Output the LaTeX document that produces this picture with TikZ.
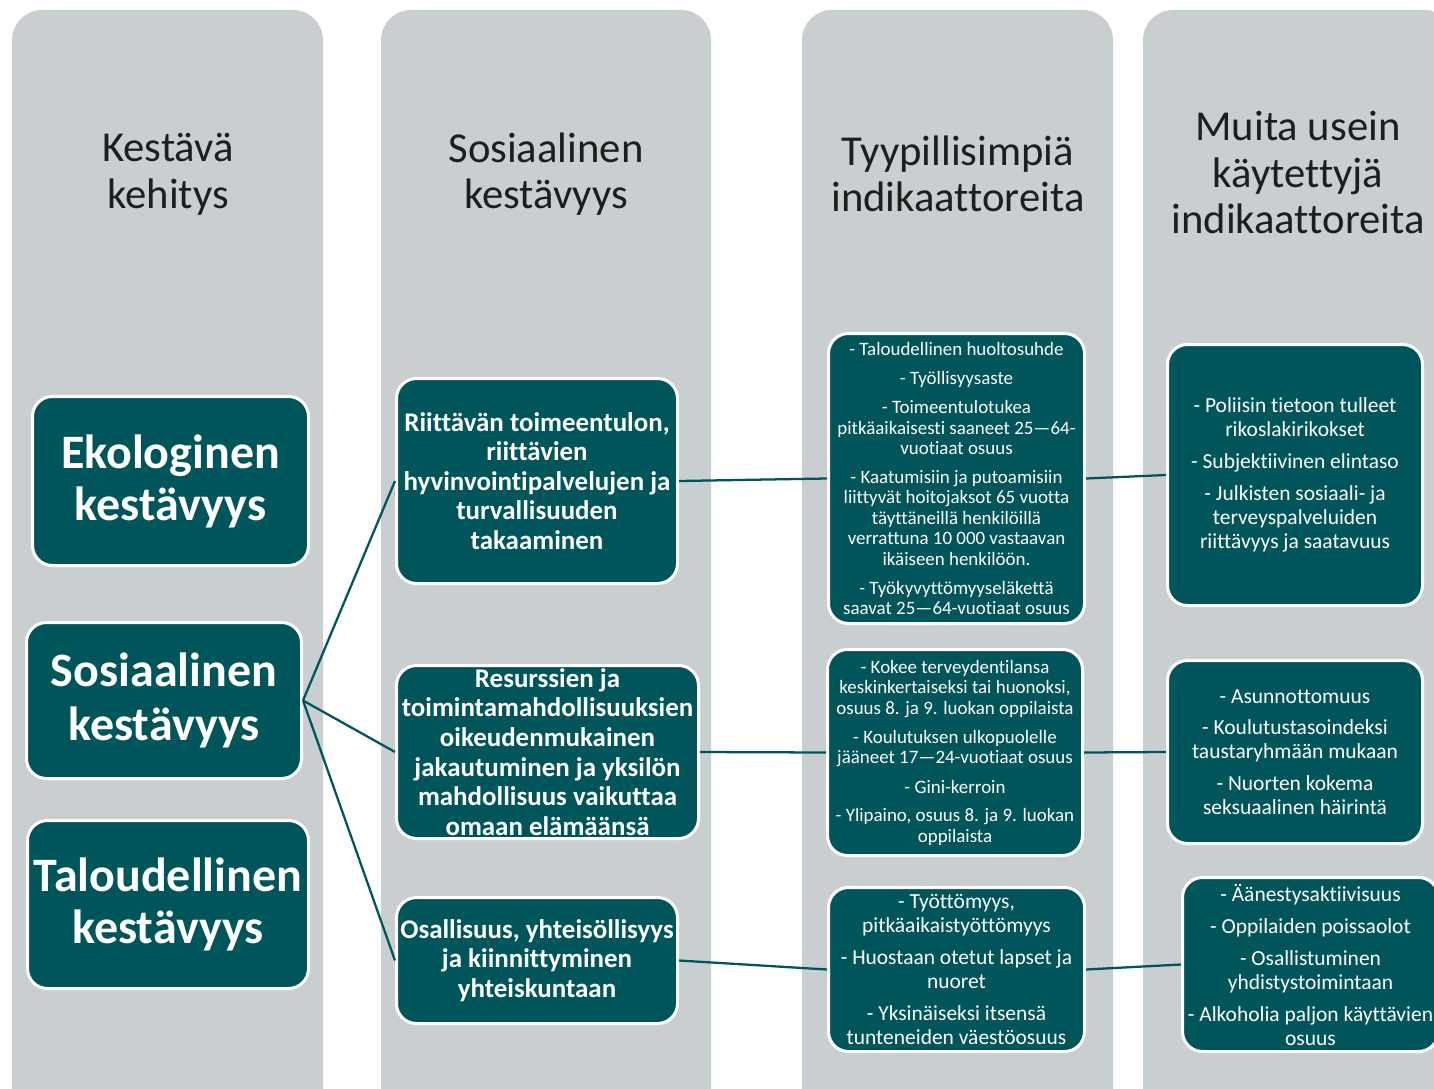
\documentclass[tikz,border=0pt]{standalone}
\usepackage{fontspec}
\setmainfont{Carlito}[Ligatures=NoCommon]
\definecolor{colgray}{RGB}{201,206,209}
\definecolor{tealbox}{RGB}{0,85,90}
\definecolor{hdrtext}{RGB}{30,30,30}
\begin{document}
\begin{tikzpicture}[x=0.75pt,y=-0.75pt,
  tbox/.style={draw=white, line width=2.25pt, fill=tealbox, rounded corners=15pt,
    text=white, align=center, inner sep=0pt},
  dims/.style 2 args={minimum width=#1*0.75pt-2.25pt, minimum height=#2*0.75pt-2.25pt},
  hdr/.style={text=hdrtext, align=center, font=\fontsize{32pt}{35pt}\selectfont},
  bigtxt/.style={font=\bfseries\fontsize{36pt}{39pt}\selectfont},
  midtxt/.style={font=\bfseries\fontsize{20.2pt}{22.2pt}\selectfont},
  smalltxt/.style={font=\fontsize{14.2pt}{15.4pt}\selectfont},
  medtxt/.style={font=\fontsize{16.1pt}{18pt}\selectfont},
  conn/.style={draw=tealbox, line width=1.7pt}]
\useasboundingbox (0,0) rectangle (1434,1088);
\clip (0,0) rectangle (1434,1088);
\fill[white] (0,0) rectangle (1434,1088);
% gray columns
\fill[colgray, rounded corners=22.5pt] (12,10) rectangle (323,1130);
\fill[colgray, rounded corners=22.5pt] (381,10) rectangle (711,1130);
\fill[colgray, rounded corners=22.5pt] (802,10) rectangle (1113,1130);
\fill[colgray, rounded corners=22.5pt] (1143,10) rectangle (1454,1130);
% headers
\node[hdr] (hA) at (168,174) {Kestävä\\kehitys};
\node[hdr] (hB) at (546,174) {Sosiaalinen\\kestävyys};
\node[hdr] (hC) at (958,174) {Tyypillisimpiä\\indikaattoreita};
\node[hdr] (hD) at (1298,172.5) {Muita usein\\käytettyjä\\indikaattoreita};
% left column
\node[tbox, dims={279}{172}, bigtxt] (eko) at (170.5,481) {Ekologinen\\kestävyys};
\node[tbox, dims={278}{159}, bigtxt] (sos) at (164,700.5) {Sosiaalinen\\[1.5pt]kestävyys};
\node[tbox, dims={284}{171}, bigtxt] (tal) at (168,904.5) {Taloudellinen\\kestävyys};
% second column
\node[tbox, dims={284}{208}, midtxt] (b1) at (537,481) {Riittävän toimeentulon,\\riittävien\\hyvinvointipalvelujen ja\\turvallisuuden\\takaaminen};
\node[tbox, dims={305}{176}, midtxt] (b2) at (547.5,752) {Resurssien ja\\toimintamahdollisuuksien\\oikeudenmukainen\\jakautuminen ja yksilön\\mahdollisuus vaikuttaa\\omaan elämäänsä};
\node[tbox, dims={284}{129}, midtxt] (b3) at (537,960.5) {Osallisuus, yhteisöllisyys\\ja kiinnittyminen\\yhteiskuntaan};
% third column
\node[tbox, dims={259}{293}, smalltxt] (c1) at (956.5,478.5) {- Taloudellinen huoltosuhde\\[6.5pt]
- Työllisyysaste\\[6.5pt]
- Toimeentulotukea\\pitkäaikaisesti saaneet 25—64-\\vuotiaat osuus\\[6pt]
- Kaatumisiin ja putoamisiin\\liittyvät hoitojaksot 65 vuotta\\täyttäneillä henkilöillä\\verrattuna 10 000 vastaavan\\ikäiseen henkilöön.\\[6.5pt]
- Työkyvyttömyyseläkettä\\saavat 25—64-vuotiaat osuus};
\node[tbox, dims={258}{209}, smalltxt] (c2) at (955,752.5) {- Kokee terveydentilansa\\keskinkertaiseksi tai huonoksi,\\osuus 8. ja 9. luokan oppilaista\\[6.5pt]
- Koulutuksen ulkopuolelle\\jääneet 17—24-vuotiaat osuus\\[6.5pt]
- Gini-kerroin\\[6pt]
- Ylipaino, osuus 8. ja 9. luokan\\oppilaista};
\node[tbox, dims={259}{167}, medtxt] (c3) at (956.5,969.5) {- Työttömyys,\\pitkäaikaistyöttömyys\\[5.5pt]
- Huostaan otetut lapset ja\\nuoret\\[6pt]
- Yksinäiseksi itsensä\\tunteneiden väestöosuus};
% fourth column
\node[tbox, dims={258}{264}, medtxt] (d1) at (1295,475) {- Poliisin tietoon tulleet\\rikoslakirikokset\\[6.5pt]
- Subjektiivinen elintaso\\[6pt]
- Julkisten sosiaali- ja\\terveyspalveluiden\\riittävyys ja saatavuus};
\node[tbox, dims={258}{186}, medtxt] (d2) at (1295,752) {- Asunnottomuus\\[5.5pt]
- Koulutustasoindeksi\\taustaryhmään mukaan\\[6pt]
- Nuorten kokema\\seksuaalinen häirintä};
\node[tbox, dims={259}{177}, medtxt] (d3) at (1310.5,964.5) {- Äänestysaktiivisuus\\[6pt]
- Oppilaiden poissaolot\\[6pt]
- Osallistuminen\\yhdistystoimintaan\\[6pt]
- Alkoholia paljon käyttävien\\osuus};
% connectors
\draw[conn] (sos.east) -- (b1.west);
\draw[conn] (sos.east) -- (b2.west);
\draw[conn] (sos.east) -- (b3.west);
\draw[conn] (b1.east) -- (c1.west);
\draw[conn] (b2.east) -- (c2.west);
\draw[conn] (b3.east) -- (c3.west);
\draw[conn] (c1.east) -- (d1.west);
\draw[conn] (c2.east) -- (d2.west);
\draw[conn] (c3.east) -- (d3.west);
\end{tikzpicture}
\end{document}
